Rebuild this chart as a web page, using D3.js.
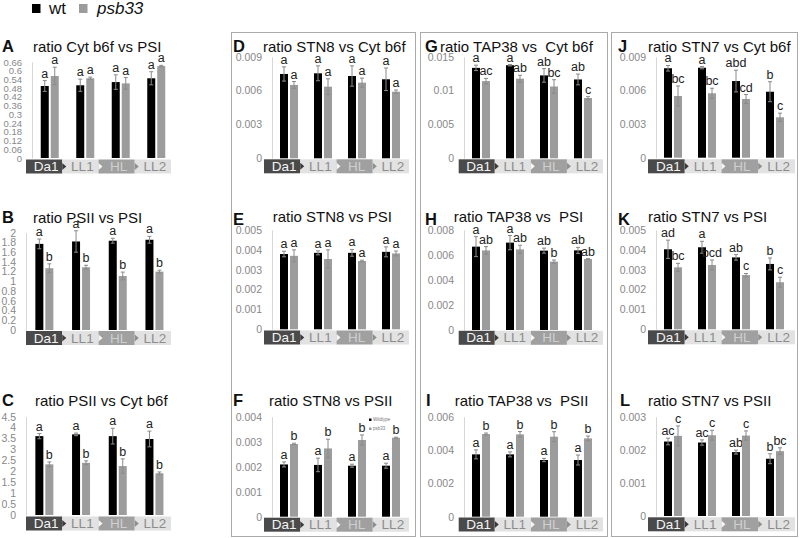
<!DOCTYPE html>
<html><head><meta charset="utf-8">
<script src="https://cdn.jsdelivr.net/npm/d3@7"></script>
<style>
html,body{margin:0;padding:0;background:#fff;}
svg{display:block;font-family:"Liberation Sans",Arial,sans-serif;}
</style></head><body>
<svg id="chart" width="800" height="538"></svg>
<script>
const categories = ["Da1", "LL1", "HL", "LL2"];
const seriesNames = ["wt", "psb33"];

// A ratio Cyt b6f vs PSI
const A_ticks = [0, 0.06, 0.12, 0.18, 0.24, 0.3, 0.36, 0.42, 0.48, 0.54, 0.6, 0.66];
const A_wt = [0.495, 0.500, 0.522, 0.548];
const A_wtErr = [0.037, 0.042, 0.05, 0.045];
const A_psb = [0.564, 0.548, 0.513, 0.632];
const A_psbErr = [0.06, 0.008, 0.04, 0.005];
const A_wtSig = ["a", "a", "a", "a"];
const A_psbSig = ["a", "a", "a", "a"];

// B ratio PSII vs PSI
const B_ticks = [0, 0.2, 0.4, 0.6, 0.8, 1, 1.2, 1.4, 1.6, 1.8, 2];
const B_wt = [1.77, 1.82, 1.835, 1.855];
const B_wtErr = [0.1, 0.22, 0.05, 0.07];
const B_psb = [1.27, 1.29, 1.11, 1.20];
const B_psbErr = [0.09, 0.04, 0.08, 0.03];
const B_wtSig = ["a", "a", "a", "a"];
const B_psbSig = ["b", "b", "b", "b"];

// C ratio PSII vs Cyt b6f
const C_ticks = [0, 0.5, 1, 1.5, 2, 2.5, 3, 3.5, 4, 4.5];
const C_wt = [3.61, 3.69, 3.61, 3.48];
const C_wtErr = [0.12, 0.06, 0.36, 0.36];
const C_psb = [2.32, 2.39, 2.24, 1.91];
const C_psbErr = [0.11, 0.09, 0.33, 0.06];
const C_wtSig = ["a", "a", "a", "a"];
const C_psbSig = ["b", "b", "b", "b"];

// D ratio STN8 vs Cyt b6f
const D_ticks = [0, 0.003, 0.006, 0.009];
const D_wt = [0.00747, 0.00753, 0.00729, 0.0070];
const D_wtErr = [0.00063, 0.00066, 0.0009, 0.001];
const D_psb = [0.0065, 0.00634, 0.0067, 0.0059];
const D_psbErr = [0.0003, 0.0007, 0.0004, 0.00015];
const D_wtSig = ["a", "a", "a", "a"];
const D_psbSig = ["a", "a", "a", "a"];

// E ratio STN8 vs PSI
const E_ticks = [0, 0.001, 0.002, 0.003, 0.004, 0.005];
const E_wt = [0.00379, 0.00385, 0.00385, 0.0039];
const E_wtErr = [0.00014, 0.0001, 0.00017, 0.00025];
const E_psb = [0.0037, 0.00354, 0.00344, 0.00382];
const E_psbErr = [0.0003, 0.00046, 0.00004, 0.00012];
const E_wtSig = ["a", "a", "a", "a"];
const E_psbSig = ["a", "a", "a", "a"];

// F ratio STN8 vs PSII
const F_ticks = [0, 0.001, 0.002, 0.003, 0.004];
const F_wt = [0.00209, 0.00207, 0.00204, 0.00204];
const F_wtErr = [0.0001, 0.00027, 0.00006, 0.0001];
const F_psb = [0.00291, 0.00273, 0.00307, 0.00316];
const F_psbErr = [0.00003, 0.00037, 0.0002, 0.00002];
const F_wtSig = ["a", "a", "a", "a"];
const F_psbSig = ["b", "b", "b", "b"];

// G ratio TAP38 vs Cyt b6f
const G_ticks = [0, 0.005, 0.01, 0.015];
const G_wt = [0.01335, 0.01374, 0.01224, 0.01164];
const G_wtErr = [0.0004, 0.0001, 0.001, 0.0008];
const G_psb = [0.0114, 0.01175, 0.0106, 0.0089];
const G_psbErr = [0.0004, 0.0005, 0.001, 0.0002];
const G_wtSig = ["a", "a", "ab", "ab"];
const G_psbSig = ["ac", "ab", "bc", "c"];

// H ratio TAP38 vs PSI
const H_ticks = [0, 0.002, 0.004, 0.006, 0.008];
const H_wt = [0.00667, 0.00699, 0.00635, 0.00637];
const H_wtErr = [0.0008, 0.00057, 0.0002, 0.00024];
const H_psb = [0.00637, 0.00645, 0.00547, 0.00568];
const H_psbErr = [0.0003, 0.00033, 0.00013, 0.00003];
const H_wtSig = ["a", "a", "ab", "ab"];
const H_psbSig = ["ab", "ab", "b", "ab"];

// I ratio TAP38 vs PSII
const I_ticks = [0, 0.002, 0.004, 0.006];
const I_wt = [0.00374, 0.00374, 0.0034, 0.0034];
const I_wtErr = [0.00027, 0.00015, 0.0001, 0.0003];
const I_psb = [0.00496, 0.00494, 0.0048, 0.0047];
const I_psbErr = [0.00006, 0.00017, 0.0003, 0.00014];
const I_wtSig = ["a", "a", "a", "a"];
const I_psbSig = ["b", "b", "b", "b"];

// J ratio STN7 vs Cyt b6f
const J_ticks = [0, 0.003, 0.006, 0.009];
const J_wt = [0.00797, 0.00802, 0.00683, 0.00588];
const J_wtErr = [0.00025, 0.0001, 0.00097, 0.00089];
const J_psb = [0.0055, 0.00574, 0.00523, 0.0036];
const J_psbErr = [0.00089, 0.00045, 0.0004, 0.00037];
const J_wtSig = ["a", "a", "abd", "b"];
const J_psbSig = ["bc", "bc", "cd", "c"];

// K ratio STN7 vs PSI
const K_ticks = [0, 0.001, 0.002, 0.003, 0.004, 0.005];
const K_wt = [0.00403, 0.00413, 0.00362, 0.00329];
const K_wtErr = [0.00046, 0.0003, 0.00014, 0.0003];
const K_psb = [0.00312, 0.00324, 0.00273, 0.00237];
const K_psbErr = [0.0002, 0.00025, 0.00008, 0.00025];
const K_wtSig = ["ad", "a", "ab", "b"];
const K_psbSig = ["bc", "bcd", "c", "c"];

// L ratio STN7 vs PSII
const L_ticks = [0, 0.001, 0.002, 0.003];
const L_wt = [0.00225, 0.00222, 0.00193, 0.00173];
const L_wtErr = [0.0001, 0.00008, 0.00006, 0.00015];
const L_psb = [0.00242, 0.00244, 0.00243, 0.00196];
const L_psbErr = [0.0003, 0.00015, 0.00014, 0.0001];
const L_wtSig = ["ac", "ac", "ab", "b"];
const L_psbSig = ["c", "c", "c", "bc"];

const panels = [
  {id:"A", title:"ratio Cyt b6f vs PSI", ticks:A_ticks, wt:A_wt, wtErr:A_wtErr, psb:A_psb, psbErr:A_psbErr, wtSig:A_wtSig, psbSig:A_psbSig},
  {id:"B", title:"ratio PSII vs PSI", ticks:B_ticks, wt:B_wt, wtErr:B_wtErr, psb:B_psb, psbErr:B_psbErr, wtSig:B_wtSig, psbSig:B_psbSig},
  {id:"C", title:"ratio PSII vs Cyt b6f", ticks:C_ticks, wt:C_wt, wtErr:C_wtErr, psb:C_psb, psbErr:C_psbErr, wtSig:C_wtSig, psbSig:C_psbSig},
  {id:"D", title:"ratio STN8 vs Cyt b6f", ticks:D_ticks, wt:D_wt, wtErr:D_wtErr, psb:D_psb, psbErr:D_psbErr, wtSig:D_wtSig, psbSig:D_psbSig},
  {id:"E", title:"ratio STN8 vs PSI", ticks:E_ticks, wt:E_wt, wtErr:E_wtErr, psb:E_psb, psbErr:E_psbErr, wtSig:E_wtSig, psbSig:E_psbSig},
  {id:"F", title:"ratio STN8 vs PSII", ticks:F_ticks, wt:F_wt, wtErr:F_wtErr, psb:F_psb, psbErr:F_psbErr, wtSig:F_wtSig, psbSig:F_psbSig},
  {id:"G", title:"ratio TAP38 vs  Cyt b6f", ticks:G_ticks, wt:G_wt, wtErr:G_wtErr, psb:G_psb, psbErr:G_psbErr, wtSig:G_wtSig, psbSig:G_psbSig},
  {id:"H", title:"ratio TAP38 vs  PSI", ticks:H_ticks, wt:H_wt, wtErr:H_wtErr, psb:H_psb, psbErr:H_psbErr, wtSig:H_wtSig, psbSig:H_psbSig},
  {id:"I", title:"ratio TAP38 vs  PSII", ticks:I_ticks, wt:I_wt, wtErr:I_wtErr, psb:I_psb, psbErr:I_psbErr, wtSig:I_wtSig, psbSig:I_psbSig},
  {id:"J", title:"ratio STN7 vs Cyt b6f", ticks:J_ticks, wt:J_wt, wtErr:J_wtErr, psb:J_psb, psbErr:J_psbErr, wtSig:J_wtSig, psbSig:J_psbSig},
  {id:"K", title:"ratio STN7 vs PSI", ticks:K_ticks, wt:K_wt, wtErr:K_wtErr, psb:K_psb, psbErr:K_psbErr, wtSig:K_wtSig, psbSig:K_psbSig},
  {id:"L", title:"ratio STN7 vs PSII", ticks:L_ticks, wt:L_wt, wtErr:L_wtErr, psb:L_psb, psbErr:L_psbErr, wtSig:L_wtSig, psbSig:L_psbSig}
];

// layout (positions only)
const layout = {
  A:{axisX:32, step:35.5, y0:158, yTop:62, band:[26,171], bandY:159.5, letterX:2, titleX:33, base:52, letterBase:52, tickFont:9.5},
  B:{axisX:26, step:36.7, y0:330, yTop:232.7, band:[26,171], bandY:331, letterX:2, titleX:33, base:222.7, letterBase:222.7, tickFont:10.5},
  C:{axisX:26, step:36.7, y0:515, yTop:416.7, band:[26,171], bandY:516.5, letterX:2, titleX:35, base:405.7, letterBase:405.7, tickFont:10.5},
  D:{axisX:272, step:34, y0:158.3, yTop:56.7, band:[264,409], bandY:159.3, letterX:233, titleX:263, base:52, letterBase:52, tickFont:10.5},
  E:{axisX:272, step:34, y0:329.3, yTop:230, band:[264,409], bandY:330.5, letterX:233, titleX:272.7, base:221.7, letterBase:225, tickFont:10.5},
  F:{axisX:272, step:34, y0:516.7, yTop:416.7, band:[264,409], bandY:517.7, letterX:233, titleX:269, base:405.7, letterBase:405.7, tickFont:10.5},
  G:{axisX:464, step:34, y0:158.3, yTop:56.7, band:[458.7,603], bandY:159.3, letterX:425, titleX:440, base:52, letterBase:52, tickFont:10.5},
  H:{axisX:464, step:34, y0:330, yTop:230, band:[458.7,603], bandY:330.8, letterX:425, titleX:453.7, base:221.7, letterBase:225, tickFont:10.5},
  I:{axisX:464, step:34, y0:516.7, yTop:416.7, band:[458.7,603], bandY:517.5, letterX:426, titleX:454.7, base:405.7, letterBase:405.7, tickFont:10.5},
  J:{axisX:656, step:34, y0:157.7, yTop:56.7, band:[648,795], bandY:159.3, letterX:618, titleX:648, base:52, letterBase:52, tickFont:10.5},
  K:{axisX:656, step:34, y0:329.3, yTop:230, band:[648,795], bandY:330.3, letterX:618, titleX:648, base:221.7, letterBase:225, tickFont:10.5},
  L:{axisX:656, step:34, y0:516, yTop:416.7, band:[648,795], bandY:517.3, letterX:620, titleX:648, base:405.7, letterBase:405.7, tickFont:10.5}
};

const colors = {wt:"#000000", psb33:"#9c9c9c"};
const bandFill = ["#4a4a4a", "#e2e2e2", "#a0a0a0", "#e2e2e2"];
const bandText = ["#f4f4f4", "#8c8c8c", "#cfcfcf", "#8c8c8c"];
const arrowFill = ["#3a3a3a", "#f6f6f6", "#8f8f8f"];

const svg = d3.select("#chart");
svg.append("rect").attr("width", 800).attr("height", 538).attr("fill", "#fff");

// dotted group boxes
[[231.5, 415.5], [420.5, 607.5], [611.5, 797.5]].forEach(([a, b]) => {
  svg.append("rect").attr("x", a).attr("y", 32.5).attr("width", b - a).attr("height", 504)
    .attr("fill", "none").attr("stroke", "#555").attr("stroke-width", 1).attr("stroke-dasharray", "1,1");
});

// legend
svg.append("rect").attr("x", 32).attr("y", 4).attr("width", 8.5).attr("height", 9).attr("fill", colors.wt);
svg.append("text").attr("x", 49).attr("y", 13.5).attr("font-size", 17).attr("fill", "#111").text("wt");
svg.append("rect").attr("x", 79).attr("y", 4).attr("width", 8.5).attr("height", 9).attr("fill", colors.psb33);
svg.append("text").attr("x", 97).attr("y", 13.5).attr("font-size", 17).attr("font-style", "italic").attr("fill", "#111").text("psb33");

const fmt = d3.format("~g");

panels.forEach(p => {
  const L = layout[p.id];
  const g = svg.append("g");
  const y = d3.scaleLinear().domain([0, p.ticks[p.ticks.length - 1]]).range([L.y0, L.yTop]);
  const pi = 1 - 18 / L.step;
  const x0 = d3.scaleBand().domain(categories).range([L.axisX, L.axisX + 4 * L.step]).paddingInner(pi).paddingOuter(pi / 2);
  const x1 = d3.scaleBand().domain(seriesNames).range([0, x0.bandwidth()]).paddingInner(0.2);

  // axis
  const ax = g.append("g").attr("transform", `translate(${L.axisX},0)`)
    .call(d3.axisLeft(y).tickValues(p.ticks).tickSize(0).tickSizeOuter(0).tickPadding(10).tickFormat(fmt));
  ax.select(".domain").attr("stroke", "#d6d6d6");
  ax.selectAll("text").attr("fill", "#888888").attr("font-size", L.tickFont)
    .attr("font-family", '"Liberation Sans",Arial,sans-serif');

  const rows = categories.map((c, i) => ({
    cat: c,
    bars: [
      {s: "wt", v: p.wt[i], e: p.wtErr[i], sig: p.wtSig[i]},
      {s: "psb33", v: p.psb[i], e: p.psbErr[i], sig: p.psbSig[i]}
    ]
  }));

  const grp = g.selectAll("g.cat").data(rows).join("g").attr("class", "cat")
    .attr("transform", d => `translate(${x0(d.cat)},0)`);
  const bar = grp.selectAll("g.bar").data(d => d.bars).join("g").attr("class", "bar");
  bar.append("rect")
    .attr("x", d => x1(d.s)).attr("y", d => y(d.v))
    .attr("width", x1.bandwidth()).attr("height", d => y(0) - y(d.v))
    .attr("fill", d => colors[d.s]);
  const cx = d => x1(d.s) + x1.bandwidth() / 2;
  bar.append("line").attr("x1", cx).attr("x2", cx)
    .attr("y1", d => y(d.v + d.e)).attr("y2", d => y(d.v - d.e))
    .attr("stroke", "#8a8a8a").attr("stroke-width", 1);
  [1, -1].forEach(sg => {
    bar.append("line").attr("x1", d => cx(d) - 2).attr("x2", d => cx(d) + 2)
      .attr("y1", d => y(d.v + sg * d.e)).attr("y2", d => y(d.v + sg * d.e))
      .attr("stroke", "#8a8a8a").attr("stroke-width", 1);
  });
  bar.append("text").attr("x", cx).attr("y", d => y(d.v + d.e) - 3)
    .attr("text-anchor", "middle").attr("font-size", 12.5).attr("fill", "#222222")
    .text(d => d.sig);

  // category strip
  const xb = d3.scaleBand().domain(categories).range(L.band).padding(0);
  const bh = 14;
  const strip = g.append("g");
  strip.selectAll("rect").data(categories).join("rect")
    .attr("x", d => xb(d)).attr("y", L.bandY).attr("width", xb.bandwidth()).attr("height", bh)
    .attr("fill", (d, i) => bandFill[i]);
  strip.selectAll("path").data(categories.slice(0, 3)).join("path")
    .attr("d", d => {
      const xe = xb(d) + xb.bandwidth();
      const yc = L.bandY + bh / 2;
      return `M${xe},${yc - 3.5}L${xe + 4},${yc}L${xe},${yc + 3.5}Z`;
    })
    .attr("fill", (d, i) => arrowFill[i]);
  strip.selectAll("text").data(categories).join("text")
    .attr("x", d => xb(d) + xb.bandwidth() / 2 + 2).attr("y", L.bandY + 11.5)
    .attr("text-anchor", "middle").attr("font-size", 13.5)
    .attr("fill", (d, i) => bandText[i]).text(d => d);

  // titles
  g.append("text").attr("x", L.letterX).attr("y", L.letterBase).attr("font-size", 16.5)
    .attr("font-weight", "bold").attr("fill", "#111").text(p.id);
  g.append("text").attr("x", L.titleX).attr("y", L.base).attr("font-size", 15)
    .attr("fill", "#111").style("white-space", "pre").text(p.title);
});

// small inner legend in panel F
const fl = svg.append("g").attr("font-size", 4.5).attr("fill", "#777");
fl.append("rect").attr("x", 369).attr("y", 418.5).attr("width", 2.5).attr("height", 2.5).attr("fill", colors.wt);
fl.append("text").attr("x", 373).attr("y", 421.2).text("Wildtype");
fl.append("rect").attr("x", 369).attr("y", 427.5).attr("width", 2.5).attr("height", 2.5).attr("fill", colors.psb33);
fl.append("text").attr("x", 373).attr("y", 430.2).text("psb33");
</script>
</body></html>
